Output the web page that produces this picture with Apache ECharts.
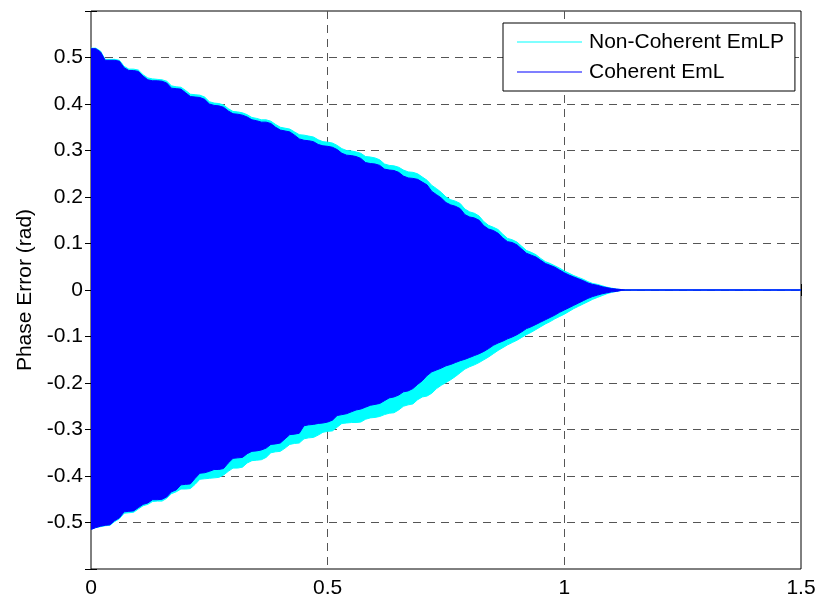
<!DOCTYPE html>
<html>
<head>
<meta charset="utf-8">
<title>Phase Error</title>
<script src="https://cdn.jsdelivr.net/npm/echarts@6/dist/echarts.min.js"></script>
<style>
  html, body { margin: 0; padding: 0; background: #fff; }
  #chart { width: 819px; height: 599px; }
</style>
</head>
<body>
<div id="chart"></div>
<script>
// Envelope of the phase-error oscillation, sampled every 0.01 s from t = 0 to 1.13 s
const tStep = 0.01;

// Non-Coherent EmLP: upper and lower envelope (rad)
const nonCohUpper = [
  0.520, 0.520, 0.514, 0.496, 0.496, 0.496, 0.494, 0.481, 0.475, 0.475,
  0.473, 0.463, 0.456, 0.454, 0.453, 0.452, 0.449, 0.439, 0.437, 0.436,
  0.429, 0.421, 0.420, 0.419, 0.415, 0.405, 0.402, 0.401, 0.398, 0.390,
  0.384, 0.383, 0.381, 0.377, 0.371, 0.369, 0.366, 0.366, 0.363, 0.356,
  0.350, 0.348, 0.346, 0.340, 0.334, 0.333, 0.331, 0.329, 0.323, 0.319,
  0.318, 0.316, 0.311, 0.304, 0.300, 0.299, 0.297, 0.294, 0.287, 0.286,
  0.284, 0.280, 0.271, 0.268, 0.267, 0.264, 0.258, 0.254, 0.253, 0.250,
  0.243, 0.236, 0.225, 0.218, 0.210, 0.200, 0.194, 0.191, 0.186, 0.174,
  0.168, 0.165, 0.159, 0.147, 0.139, 0.135, 0.130, 0.120, 0.111, 0.108,
  0.103, 0.094, 0.085, 0.081, 0.076, 0.068, 0.061, 0.057, 0.052, 0.047,
  0.041, 0.036, 0.031, 0.027, 0.023, 0.018, 0.014, 0.012, 0.009, 0.006,
  0.004, 0.002, 0.001, 0
];
const nonCohLower = [
  -0.515, -0.511, -0.509, -0.507, -0.506, -0.498, -0.492, -0.480, -0.479, -0.478,
  -0.471, -0.464, -0.461, -0.455, -0.454, -0.454, -0.448, -0.438, -0.434, -0.428,
  -0.428, -0.427, -0.418, -0.407, -0.406, -0.405, -0.404, -0.403, -0.398, -0.390,
  -0.383, -0.383, -0.381, -0.372, -0.367, -0.366, -0.365, -0.360, -0.350, -0.348,
  -0.347, -0.340, -0.332, -0.330, -0.329, -0.320, -0.318, -0.317, -0.312, -0.306,
  -0.304, -0.303, -0.295, -0.287, -0.286, -0.285, -0.285, -0.284, -0.278, -0.275,
  -0.274, -0.272, -0.268, -0.265, -0.264, -0.258, -0.250, -0.247, -0.245, -0.236,
  -0.230, -0.228, -0.222, -0.212, -0.205, -0.199, -0.193, -0.186, -0.178, -0.170,
  -0.165, -0.161, -0.156, -0.150, -0.144, -0.137, -0.130, -0.124, -0.118, -0.113,
  -0.108, -0.102, -0.096, -0.091, -0.085, -0.079, -0.073, -0.068, -0.062, -0.057,
  -0.052, -0.046, -0.040, -0.035, -0.030, -0.025, -0.020, -0.016, -0.012, -0.008,
  -0.005, -0.003, -0.001, 0
];

// Coherent EmL: upper and lower envelope (rad)
const cohUpper = [
  0.519, 0.519, 0.512, 0.494, 0.494, 0.494, 0.492, 0.478, 0.472, 0.472,
  0.470, 0.460, 0.452, 0.450, 0.450, 0.449, 0.445, 0.434, 0.433, 0.432,
  0.424, 0.416, 0.415, 0.414, 0.410, 0.400, 0.397, 0.396, 0.393, 0.385,
  0.379, 0.378, 0.376, 0.372, 0.366, 0.364, 0.361, 0.361, 0.358, 0.350,
  0.344, 0.342, 0.340, 0.333, 0.325, 0.322, 0.321, 0.319, 0.313, 0.310,
  0.309, 0.307, 0.302, 0.294, 0.290, 0.289, 0.287, 0.283, 0.274, 0.272,
  0.271, 0.268, 0.260, 0.258, 0.257, 0.253, 0.245, 0.241, 0.240, 0.238,
  0.232, 0.226, 0.212, 0.205, 0.198, 0.188, 0.183, 0.180, 0.175, 0.162,
  0.157, 0.155, 0.150, 0.138, 0.131, 0.128, 0.122, 0.112, 0.104, 0.102,
  0.097, 0.088, 0.079, 0.075, 0.071, 0.064, 0.057, 0.053, 0.049, 0.043,
  0.037, 0.032, 0.028, 0.024, 0.020, 0.015, 0.012, 0.010, 0.007, 0.005,
  0.003, 0.002, 0.001, 0
];
const cohLower = [
  -0.515, -0.511, -0.508, -0.506, -0.505, -0.496, -0.490, -0.477, -0.476, -0.475,
  -0.468, -0.461, -0.458, -0.451, -0.451, -0.450, -0.445, -0.434, -0.430, -0.419,
  -0.418, -0.417, -0.405, -0.394, -0.393, -0.390, -0.386, -0.386, -0.384, -0.372,
  -0.362, -0.361, -0.360, -0.352, -0.347, -0.346, -0.344, -0.340, -0.332, -0.331,
  -0.329, -0.320, -0.311, -0.310, -0.308, -0.292, -0.290, -0.289, -0.287, -0.286,
  -0.284, -0.280, -0.270, -0.268, -0.266, -0.262, -0.258, -0.256, -0.252, -0.248,
  -0.246, -0.244, -0.238, -0.232, -0.230, -0.226, -0.219, -0.217, -0.212, -0.203,
  -0.195, -0.184, -0.176, -0.172, -0.168, -0.163, -0.160, -0.156, -0.152, -0.149,
  -0.145, -0.141, -0.137, -0.132, -0.126, -0.119, -0.114, -0.110, -0.105, -0.101,
  -0.096, -0.090, -0.083, -0.079, -0.074, -0.069, -0.064, -0.059, -0.054, -0.048,
  -0.043, -0.038, -0.033, -0.028, -0.023, -0.018, -0.014, -0.011, -0.008, -0.006,
  -0.004, -0.003, -0.001, 0
];

// After lock-in both loops settle at zero error until the end of the run
const settledT = [1.13, 1.5];
const settledV = [0, 0];

// Axis ticks
const xTicks = { min: 0, max: 1.5, interval: 0.5 };
const yTicks = { min: -0.6, max: 0.6, interval: 0.1, labelLimit: 0.5 };

const seriesNames = ['Non-Coherent EmLP', 'Coherent EmL'];
const seriesColors = ['#00ffff', '#0000ff'];

const FONT = 'Liberation Sans, Arial, Helvetica, sans-serif';

function toPairs(values) {
  const pts = values.map((v, i) => [+(i * tStep).toFixed(2), v]);
  settledT.forEach((t, i) => pts.push([t, settledV[i]]));
  return pts;
}

function band(name, color, values, z) {
  return {
    name: name,
    type: 'line',
    data: toPairs(values),
    color: color,
    showSymbol: false,
    symbol: 'none',
    silent: true,
    z: z,
    lineStyle: { color: color, width: 1 },
    areaStyle: { color: color, opacity: 1 }
  };
}

const fmtY = v => (Math.abs(v) > yTicks.labelLimit + 1e-9) ? '' : String(Math.round(v * 10) / 10);
const fmtX = v => String(Math.round(v * 10) / 10);

const chart = echarts.init(document.getElementById('chart'), null, { renderer: 'canvas' });

const tickStyle = { inside: true, length: 6, lineStyle: { color: '#000', width: 1 } };
const gridDash = { show: true, showMinLine: false, showMaxLine: false,
  lineStyle: { color: '#555', width: 1, type: [8, 6] } };

chart.setOption({
  animation: false,
  backgroundColor: '#fff',
  grid: {
    left: 91, top: 11, right: 18, bottom: 29,
    show: true, borderColor: '#000', borderWidth: 1, backgroundColor: '#fff'
  },
  legend: {
    data: seriesNames,
    orient: 'vertical',
    left: 503, top: 23,
    padding: [4, 11, 4, 14],
    itemGap: 0,
    itemWidth: 65,
    itemHeight: 1,
    icon: 'rect',
    backgroundColor: '#fff',
    borderColor: '#000',
    borderWidth: 1,
    borderRadius: 0,
    selectedMode: false,
    textStyle: { fontFamily: FONT, fontSize: 21, color: '#000', lineHeight: 30, padding: [0, 0, 0, 2] }
  },
  xAxis: [
    {
      type: 'value', min: xTicks.min, max: xTicks.max, interval: xTicks.interval,
      axisLine: { show: false },
      axisTick: tickStyle,
      axisLabel: { margin: 9, color: '#000', fontSize: 21, fontFamily: FONT, formatter: fmtX },
      splitLine: gridDash
    },
    {
      type: 'value', position: 'top', min: xTicks.min, max: xTicks.max, interval: xTicks.interval,
      axisLine: { show: false }, axisTick: tickStyle,
      axisLabel: { show: false }, splitLine: { show: false }
    }
  ],
  yAxis: [
    {
      type: 'value', min: yTicks.min, max: yTicks.max, interval: yTicks.interval,
      name: 'Phase Error (rad)', nameLocation: 'middle', nameGap: 55, nameRotate: 90,
      nameTextStyle: { fontFamily: FONT, fontSize: 21, color: '#000' },
      axisLine: { show: false },
      axisTick: tickStyle,
      axisLabel: { margin: 8, color: '#000', fontSize: 21, fontFamily: FONT, formatter: fmtY },
      splitLine: gridDash
    },
    {
      type: 'value', position: 'right', min: yTicks.min, max: yTicks.max, interval: yTicks.interval,
      axisLine: { show: false }, axisTick: tickStyle,
      axisLabel: { show: false }, splitLine: { show: false }
    }
  ],
  series: [
    band(seriesNames[0], seriesColors[0], nonCohUpper, 2),
    band(seriesNames[0], seriesColors[0], nonCohLower, 2),
    band(seriesNames[1], seriesColors[1], cohUpper, 3),
    band(seriesNames[1], seriesColors[1], cohLower, 3)
  ]
});
</script>
</body>
</html>
